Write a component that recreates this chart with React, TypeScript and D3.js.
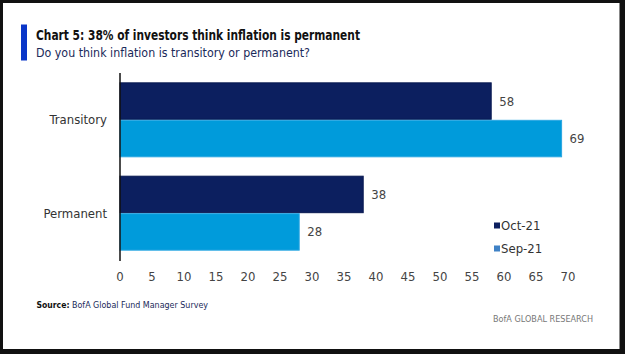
import React from "react";
import * as d3 from "d3";

const categories = ["Transitory", "Permanent"];
const seriesNames = ["Oct-21", "Sep-21"];
const oct21 = [58, 38];
const sep21 = [69, 28];
const xTicks = [0, 5, 10, 15, 20, 25, 30, 35, 40, 45, 50, 55, 60, 65, 70];
const title = "Chart 5: 38% of investors think inflation is permanent";
const subtitle = "Do you think inflation is transitory or permanent?";
const sourceLabel = "Source:";
const sourceText = "BofA Global Fund Manager Survey";
const brand = "BofA GLOBAL RESEARCH";

const W = 625;
const H = 354;
const FONT = "'Liberation Sans Narrow', 'DejaVu Sans Condensed', 'Open Sans', sans-serif";

const fills = ["#0c1f5f", "#009bdb"];
const strokes = ["#081850", "#2aa6e2"];
const legendFills = ["#0c1f5f", "#3f82c6"];

export default function App() {
  const x = d3.scaleLinear().domain([0, 70]).range([120, 568]);
  const y0 = d3
    .scaleBand<string>()
    .domain(categories)
    .range([73, 260])
    .paddingInner(0.197)
    .paddingOuter(0.1);
  const y1 = d3
    .scaleBand<string>()
    .domain(seriesNames)
    .range([0, y0.bandwidth()])
    .padding(0);
  const values = [oct21, sep21];

  return (
    <svg
      width={W}
      height={H}
      style={{ position: "absolute", left: 0, top: 0, display: "block" }}
      fontFamily={FONT}
    >
      <rect x={0} y={0} width={W} height={H} fill="#111" />
      <rect x={3} y={3} width={616} height={346} fill="#fff" />
      <rect x={619} y={3} width={1} height={346} fill="#888" />

      {/* title */}
      <rect x={21} y={24.5} width={6} height={36} fill="#0a36c8" />
      <text x={36} y={40} fontSize={13.5} fontWeight="bold" fill="#111" textLength={324} lengthAdjust="spacingAndGlyphs">
        {title}
      </text>
      <text x={36} y={56.5} fontSize={12.5} fill="#1a2a5a" textLength={274} lengthAdjust="spacingAndGlyphs">
        {subtitle}
      </text>

      {/* bars */}
      {categories.map((c, ci) =>
        seriesNames.map((s, si) => {
          const v = values[si][ci];
          const yy = (y0(c) ?? 0) + (y1(s) ?? 0);
          return (
            <g key={c + s}>
              <rect
                x={x(0)}
                y={yy + 0.5}
                width={x(v) - x(0)}
                height={y1.bandwidth() - 1}
                fill={fills[si]}
                stroke={strokes[si]}
                strokeWidth={1}
              />
              <text
                x={x(v) + 8}
                y={yy + y1.bandwidth() / 2}
                dy="0.35em"
                fontSize={13}
                fill="#444"
              >
                {v}
              </text>
            </g>
          );
        })
      )}

      {/* y axis line */}
      <line x1={x(0)} x2={x(0)} y1={73} y2={261} stroke="#111" strokeWidth={1.5} />

      {/* category labels */}
      {categories.map((c) => (
        <text
          key={c}
          x={107}
          y={(y0(c) ?? 0) + y0.bandwidth() / 2}
          dy="0.35em"
          textAnchor="end"
          fontSize={13}
          fill="#333"
        >
          {c}
        </text>
      ))}

      {/* x tick labels */}
      {xTicks.map((t) => (
        <text key={t} x={x(t)} y={276} dy="0.35em" textAnchor="middle" fontSize={13} fill="#444">
          {t}
        </text>
      ))}

      {/* legend */}
      {seriesNames.map((s, i) => (
        <g key={s} transform={`translate(494, ${225.5 + i * 23})`}>
          <rect x={0} y={-3} width={6} height={6} fill={legendFills[i]} />
          <text x={7} y={0} dy="0.35em" fontSize={13} fill="#333">
            {s}
          </text>
        </g>
      ))}

      {/* footer */}
      <text x={36.5} y={308} fontSize={9.5} fontWeight="bold" fill="#111" textLength={33} lengthAdjust="spacingAndGlyphs">
        {sourceLabel}
      </text>
      <text x={72} y={308} fontSize={9.5} fill="#1a2a5a" textLength={136} lengthAdjust="spacingAndGlyphs">
        {sourceText}
      </text>
      <text x={593} y={321.5} textAnchor="end" fontSize={9} fill="#777" textLength={100} lengthAdjust="spacingAndGlyphs">
        {brand}
      </text>
    </svg>
  );
}
